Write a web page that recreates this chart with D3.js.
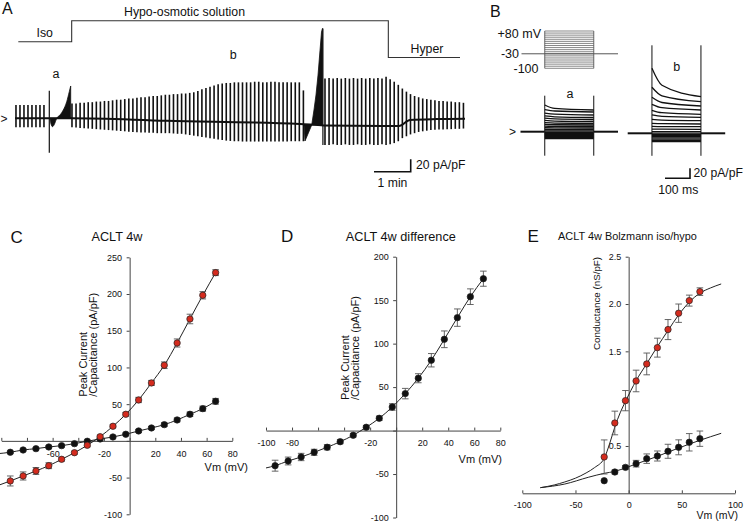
<!DOCTYPE html>
<html><head><meta charset="utf-8">
<script src="https://cdn.jsdelivr.net/npm/d3@7"></script>
<style>
body{margin:0;background:#fff}
svg{display:block}
text{font-family:"Liberation Sans",Arial,sans-serif;fill:#111}
</style></head>
<body><svg id="fig" width="745" height="523"></svg>
<script>
// ---------------- DATA ----------------
// Panel A: continuous recording (time in s, current in pA/pF)
const seg1Start = 1.6, seg1Step = 6.54;
const seg1Hi = [21.5,21.5,21.5,21.5,21.5,21.5,21.5,21.5];
const seg1Lo = [-14.5,-14.5,-14.5,-14.5,-14.5,-14.5,-14.5,-14.5];
const seg2Start = 93.2, seg2Step = 6.64;
const seg2Hi = [24,24,25,25,26,26,27,27,28,28,29,30,30,31,32,32,33,34,34,35,36,36,37,38,38,39,39,40,40,41,42,44,47,49,51,53,55,56,57,57,58,58,58,58,58,59,59,58,58,59,59,58,58,58,58,58,58,45];
const seg2Lo = [-14.5,-15,-15.5,-16,-16.5,-17,-17.5,-18,-18.5,-19,-19.5,-20,-20.5,-21,-21.5,-22,-22.5,-23,-23,-23.5,-23.5,-24,-24,-24,-24,-24.5,-25,-25,-26,-27,-28,-29,-30,-31,-32,-33,-34,-35,-36,-36.5,-37,-37,-37.5,-37.5,-37.5,-37.5,-37.5,-37.5,-37.5,-37.5,-37.5,-37.5,-37.5,-37.5,-37,-37,-37,-37];
const seg3Start = 507, seg3Step = 6.66;
const seg3Hi = [64,65,64,65,64,65,64,65,64,65,64,65,64,65,64,67,63,59,54,48,43,39,36,34,32,31,30,29,28,28,27,27,26,26,25];
const seg3Lo = [-43,-43,-42,-43,-43,-42,-43,-43,-42,-43,-43,-42,-43,-43,-42,-43,-42,-40,-37,-32,-29,-26,-24,-22,-21,-20,-19,-18.5,-18,-18,-17.5,-17.5,-17,-17,-16.5];
const holdT = [0,93,248,466,505,628,646,690,736];
const holdI = [0,0,-4,-9,-11.5,-12.4,-2.7,-1.2,-0.6];
const rampAT = [57.2,58.9,61.3,64.6,68.2,73.6,79,84.6,88.8,91.1];
const rampAI = [0,-9.2,-13.5,-9.2,0,5.3,13.4,26.8,42.9,52.1];
const rampBBase = -10.8;
const rampBT = [472.7,474.3,485.3,489,492.3,495.6,498.9,501.3,502.9];
const rampBI = [-10.8,-36.6,-10.8,13.4,37.6,69.8,110,139,145];
const spikeT = [56.1,503.6];
const spikeHi = [44.5,145];
const spikeLo = [-55.5,-43];
const solT = [5.4,92.7,92.7,610.6,610.6,727.8];
const solLevel = [0,0,1,1,-0.75,-0.75];

// Panel B: voltage steps and currents (pA/pF), times in ms
const stepV = [-100,-90,-80,-70,-60,-50,-40,-30,-20,-10,0,10,20,30,40,50,60,70,80];
const aEnd  = [-13.6,-11.6,-9.6,-7.6,-5.6,-3.6,-1.6,1.4,4.4,7.4,10.4,13.4,16.4,20.4,24.4,28.4,33.4,39.4,43.4];
const aMid  = [-13.6,-11.6,-9.6,-7.6,-5.6,-3.6,-1.6,1.4,4.4,7.6,10.7,13.9,17,21.2,25.5,29.8,35,41.4,46.5];
const aPeak = [-13.6,-11.6,-9.6,-7.6,-5.6,-3.6,-1.6,1.4,4.4,7.9,11,14.5,18,22.5,27,31.5,37,44,53.4];
const bEnd  = [-16.8,-14,-11.6,-9.2,-6.8,-4.4,-2,0.4,3.2,8,13.2,18.6,25.2,32,38,46.6,54.6,63.2,73.2];
const bMid  = [-16.8,-14,-11.6,-9.2,-6.8,-4.4,-2,0.4,3.2,8.2,13.5,19.2,26.3,34,41.2,51.2,61.6,74.8,96];
const bPeak = [-16.8,-14,-11.6,-9.2,-6.8,-4.4,-2,0.4,3.2,8.5,14,20,28,37,46,58,72,92,130];
const pulseOn = 97, pulseOff = 293, sweepEnd = 390;
const aTransient = [72,-48];
const bTransient = [176,-45];

// Panels C, D: I-V relations
const ivVoltage = [-93,-83,-73,-63,-53,-43,-33,-23,-13,-3,7,17,27,37,47,57,67];
const isoCurrent = [-15.5,-12.4,-10.6,-8.3,-6.5,-3.8,-0.5,2.6,5.3,9,13.5,17.6,22.1,28.5,36.2,43.9,53.9];
const isoErr = [1.5,1.5,1.5,1.5,1.5,1.5,1.5,1.5,1.5,1.5,2,2,2.5,2.5,3,3.4,3.9];
const hypoCurrent = [-54.6,-47.8,-41,-33.8,-25.1,-16.1,-6,5.7,19.9,36.2,55.7,78.9,103,133.3,166,198.3,229.1];
const hypoErr = [6.8,5.5,4.7,4,2.5,2,2,2,2,2.5,3.6,3.4,4.5,5.5,6.5,5,4];
const ivFitV = [-103,-93,-83,-73,-63,-53,-43,-33,-23,-13,-3,7,17,27,37,47,57,67];
const isoFit = [-17.5,-15.5,-12.4,-10.6,-8.3,-6.5,-3.8,-0.5,2.6,5.3,9,13.5,17.6,22.1,28.5,36.2,43.9,53.9];
const hypoFit = [-61,-54.6,-47.8,-41,-33.8,-25.1,-16.1,-6,5.7,19.9,36.2,55.7,78.9,103,133.3,166,198.3,229.1];
const diffCurrent = [-40.4,-35,-30.4,-25,-19.2,-12.8,-5.4,3.8,14.1,27.1,42.5,60.2,80.9,105,129.9,154,174.7];
const diffErr = [6.3,4.5,4.2,3.5,3,2.3,2,2,2.5,3.8,6,5.2,7.7,9.6,10,9,8.7];
const diffFitV = [-100,-93,-83,-73,-63,-53,-43,-33,-23,-13,-3,7,17,27,37,47,57,67];
const diffFit = [-43,-40.4,-35,-30.4,-25,-19.2,-12.8,-5.4,3.8,14.1,27.1,42.5,60.2,80.9,105,129.9,154,174.7];

// Panel E: conductance (nS/pF)
const gVoltage = [-23,-13,-3,7,17,27,37,47,57,67];
const gHypo = [0.384,0.743,0.979,1.187,1.367,1.539,1.73,1.903,2.036,2.131];
const gHypoErr = [0.18,0.125,0.107,0.114,0.115,0.1,0.106,0.097,0.058,0.04];
const gIso = [0.133,0.225,0.274,0.313,0.366,0.394,0.444,0.486,0.539,0.577];
const gIsoErr = [0,0.02,0.02,0.035,0.05,0.053,0.074,0.079,0.092,0.081];
const gHypoFitV = [-83,-70,-60,-50,-40,-32,-23,-18,-13,-8,-3,7,17,27,37,47,57,67,77,87];
const gHypoFit = [0.059,0.088,0.12,0.16,0.215,0.272,0.37,0.52,0.70,0.85,0.97,1.19,1.37,1.55,1.72,1.885,2.02,2.115,2.17,2.212];
const gIsoFitV = [-83,-60,-38,-23,-13,-3,7,17,27,37,47,57,67,87];
const gIsoFit = [0.06,0.098,0.169,0.211,0.232,0.268,0.31,0.35,0.39,0.435,0.478,0.52,0.56,0.634];

// ---------------- DRAW ----------------
const svg = d3.select('#fig');
svg.append('rect').attr('width',745).attr('height',523).attr('fill','#fff');
const FONT = '"Liberation Sans",Arial,sans-serif';
function label(x,y,s,size,anchor='start',opts={}) {
  const t = svg.append('text').attr('x',x).attr('y',y).attr('font-size',size)
    .attr('text-anchor',anchor).text(s);
  if (opts.family) t.attr('font-family',opts.family);
  if (opts.fill) t.attr('fill',opts.fill);
  return t;
}
const LETTER = '"Open Sans","Noto Sans",sans-serif';
label(2,14,'A',16,'start',{family:LETTER});
label(490,16.5,'B',16,'start',{family:LETTER});
label(10.5,242.5,'C',17,'start',{family:LETTER});
label(281,242,'D',17,'start',{family:LETTER});
label(527.5,241.5,'E',17,'start',{family:LETTER});

// ---- Panel A ----
const xA = d3.scaleLinear([0,736],[15,465]);
const yA = d3.scaleLinear([-50,50],[118.3+31,118.3-31]);
const gA = svg.append('g');
const solY = d3.scaleLinear([0,1],[41.7,20.7]);
gA.append('path').datum(solT.map((t,i)=>[t,solLevel[i]]))
  .attr('d',d3.line().x(d=>xA(d[0])).y(d=>solY(d[1])))
  .attr('fill','none').attr('stroke','#333').attr('stroke-width',1.1);
label(184.5,16,'Hypo-osmotic solution',12.3,'middle');
label(44.7,36.5,'Iso',12.3,'middle');
label(427,52.5,'Hyper',12.3,'middle');
label(56,77.5,'a',12.5,'middle');
label(233.3,59,'b',12.5,'middle');
label(0.5,122.5,'>',12,'start');

function pulses(start,step,hi,lo){
  gA.append('g').selectAll('line').data(hi.map((h,i)=>({t:start+i*step,h,l:lo[i]})))
    .join('line').attr('x1',d=>xA(d.t)).attr('x2',d=>xA(d.t))
    .attr('y1',d=>yA(d.h)).attr('y2',d=>yA(d.l))
    .attr('stroke','#111').attr('stroke-width',1.6);
}
pulses(seg1Start,seg1Step,seg1Hi,seg1Lo);
pulses(seg2Start,seg2Step,seg2Hi,seg2Lo);
pulses(seg3Start,seg3Step,seg3Hi,seg3Lo);
gA.append('path').datum(holdT.map((t,i)=>[t,holdI[i]]))
  .attr('d',d3.line().x(d=>xA(d[0])).y(d=>yA(d[1])).curve(d3.curveMonotoneX))
  .attr('fill','none').attr('stroke','#111').attr('stroke-width',2);
gA.append('path').datum(rampAT.map((t,i)=>[t,rampAI[i]]))
  .attr('d',d3.area().x(d=>xA(d[0])).y0(yA(0)).y1(d=>yA(d[1])).curve(d3.curveMonotoneX))
  .attr('fill','#111').attr('stroke','#111').attr('stroke-width',0.8);
gA.append('path').datum(rampBT.map((t,i)=>[t,rampBI[i]]))
  .attr('d',d3.area().x(d=>xA(d[0])).y0(yA(rampBBase)).y1(d=>yA(d[1])))
  .attr('fill','#111').attr('stroke','#111').attr('stroke-width',0.8);
gA.append('g').selectAll('line').data(spikeT.map((t,i)=>({t,h:spikeHi[i],l:spikeLo[i]})))
  .join('line').attr('x1',d=>xA(d.t)).attr('x2',d=>xA(d.t))
  .attr('y1',d=>yA(d.h)).attr('y2',d=>yA(d.l)).attr('stroke','#111').attr('stroke-width',1.2);
// scale bar A
const sbT = 647.2, sbI = -86.1;
gA.append('path').attr('d',`M${xA(sbT-60)},${yA(sbI)}H${xA(sbT)}V${yA(sbI+20)}`)
  .attr('fill','none').attr('stroke','#111').attr('stroke-width',1.6);
label(416,168.5,'20 pA/pF',12.2,'start');
label(392.5,187,'1 min',12.2,'middle');

// ---- Panel B ----
const xBa = d3.scaleLinear([0,390],[520.5,618]);
const xBb = d3.scaleLinear([0,390],[627.7,725.2]);
const yV = d3.scaleLinear([-100,80],[68.3,31]);
const yBa = d3.scaleLinear([0,100],[131.7,81.7]);
const yBb = d3.scaleLinear([0,100],[133.3,83.3]);
const gB = svg.append('g');
gB.append('g').selectAll('line').data(stepV).join('line')
  .attr('x1',xBa(pulseOn)).attr('x2',xBa(pulseOff)).attr('y1',d=>yV(d)).attr('y2',d=>yV(d))
  .attr('stroke','#555').attr('stroke-width',0.7);
[pulseOn,pulseOff].forEach(t=>gB.append('line').attr('x1',xBa(t)).attr('x2',xBa(t))
  .attr('y1',yV(-100)).attr('y2',yV(80)).attr('stroke','#555').attr('stroke-width',0.9));
gB.append('line').attr('x1',xBa(0)+1).attr('x2',xBa(sweepEnd)).attr('y1',yV(-30)).attr('y2',yV(-30))
  .attr('stroke','#555').attr('stroke-width',1);
label(541,37.5,'+80 mV',12.5,'end');
label(519,57.8,'-30',12.5,'end');
label(538.5,72.5,'-100',12.5,'end');
label(570,98,'a',12.5,'middle');
label(676.7,71,'b',12.5,'middle');
label(509,135.5,'>',12,'start');

function traces(xs,ys,peak,mid,end,tr){
  const g = gB.append('g');
  g.append('line').attr('x1',xs(0)).attr('x2',xs(pulseOn)).attr('y1',ys(0)).attr('y2',ys(0))
    .attr('stroke','#111').attr('stroke-width',2);
  g.append('line').attr('x1',xs(pulseOff)).attr('x2',xs(sweepEnd)).attr('y1',ys(0)).attr('y2',ys(0))
    .attr('stroke','#111').attr('stroke-width',2);
  const ln = d3.line().x(d=>xs(d[0])).y(d=>ys(d[1])).curve(d3.curveMonotoneX);
  g.selectAll('path').data(stepV.map((v,i)=>[[pulseOn,peak[i]],[pulseOn+40,mid[i]],[pulseOff,end[i]]]))
    .join('path').attr('d',ln).attr('fill','none').attr('stroke','#111').attr('stroke-width',1.3);
  [pulseOn,pulseOff].forEach(t=>g.append('line').attr('x1',xs(t)).attr('x2',xs(t))
    .attr('y1',ys(tr[0])).attr('y2',ys(tr[1])).attr('stroke','#111').attr('stroke-width',1));
}
traces(xBa,yBa,aPeak,aMid,aEnd,aTransient);
traces(xBb,yBb,bPeak,bMid,bEnd,bTransient);
const sbBT = 249.2, sbBI = -90;
gB.append('path').attr('d',`M${xBb(sbBT-100)},${yBb(sbBI)}H${xBb(sbBT)}V${yBb(sbBI+20)}`)
  .attr('fill','none').attr('stroke','#111').attr('stroke-width',1.6);
label(693.5,176.5,'20 pA/pF',12.2,'start');
label(678.3,193.5,'100 ms',12.2,'middle');

// ---- generic IV plot helpers ----
function axes(x,y,o){
  const g = svg.append('g');
  const xa = d3.axisBottom(x).tickValues(o.xTicks).tickSizeInner(-3).tickSizeOuter(0)
    .tickPadding(o.xPad).tickFormat(d=>o.xLabels.includes(d)?String(d):'');
  const gx = g.append('g').attr('transform',`translate(0,${y(0)})`).call(xa);
  const ya = d3.axisLeft(y).tickValues(o.yTicks).tickSizeInner(3).tickSizeOuter(0)
    .tickPadding(4.5).tickFormat(d=>o.yLabels.includes(d)?o.yFmt(d):'');
  const gy = g.append('g').attr('transform',`translate(${x(0)},0)`).call(ya);
  [gx,gy].forEach(a=>{
    a.attr('font-size',9).attr('font-family',FONT);
    a.selectAll('path,line').attr('stroke','#444');
    a.selectAll('text').attr('fill','#333');
  });
}
function fitLine(x,y,V,vals){
  svg.append('path').datum(V.map((v,i)=>[v,vals[i]]))
    .attr('d',d3.line().x(d=>x(d[0])).y(d=>y(d[1])).curve(d3.curveMonotoneX))
    .attr('fill','none').attr('stroke','#222').attr('stroke-width',1);
}
function points(x,y,V,vals,errs,fill){
  const g = svg.append('g');
  const d = V.map((v,i)=>({v,m:vals[i],e:errs[i]}));
  const eb = g.selectAll('g.e').data(d.filter(p=>p.e>0)).join('g').attr('stroke','#555').attr('stroke-width',0.9);
  eb.append('line').attr('x1',p=>x(p.v)).attr('x2',p=>x(p.v)).attr('y1',p=>y(p.m-p.e)).attr('y2',p=>y(p.m+p.e));
  eb.append('line').attr('x1',p=>x(p.v)-3.3).attr('x2',p=>x(p.v)+3.3).attr('y1',p=>y(p.m+p.e)).attr('y2',p=>y(p.m+p.e));
  eb.append('line').attr('x1',p=>x(p.v)-3.3).attr('x2',p=>x(p.v)+3.3).attr('y1',p=>y(p.m-p.e)).attr('y2',p=>y(p.m-p.e));
  g.selectAll('circle').data(d).join('circle').attr('cx',p=>x(p.v)).attr('cy',p=>y(p.m)).attr('r',3.2)
    .attr('fill',fill).attr('stroke','#222').attr('stroke-width',0.7);
}
function ylab(x,yStart,lines,size){
  lines.forEach((s,i)=>{
    svg.append('text').attr('transform',`translate(${x+i*10},${yStart}) rotate(-90)`)
      .attr('font-size',size).attr('text-anchor','start').attr('fill','#222').text(s);
  });
}
const RED = '#d42b1e', BLK = '#111';

// ---- Panel C ----
const xC = d3.scaleLinear([-100,80],[1.3,232.3]);
const yC = d3.scaleLinear([-100,250],[514.3,257.3]);
axes(xC,yC,{xTicks:d3.range(-100,81,20),xLabels:[-60,-20,20,40,60,80],xPad:9.5,
  yTicks:d3.range(-100,251,50),yLabels:[-100,-50,50,100,150,200,250],yFmt:d=>String(d)});
fitLine(xC,yC,ivFitV,isoFit);
fitLine(xC,yC,ivFitV,hypoFit);
points(xC,yC,ivVoltage,isoCurrent,isoErr,BLK);
points(xC,yC,ivVoltage,hypoCurrent,hypoErr,RED);
label(117,241.3,'ACLT 4w',12.7,'middle');
label(248,471,'Vm (mV)',11,'end',{fill:'#222'});
ylab(87,396.7,['Peak Current','/Capacitance (pA/pF)'],11);

// ---- Panel D ----
const xD = d3.scaleLinear([-100,80],[266,500.3]);
const yD = d3.scaleLinear([-100,200],[517.5,256.7]);
axes(xD,yD,{xTicks:d3.range(-100,81,20),xLabels:[-100,-80,-20,20,40,60,80],xPad:9.5,
  yTicks:d3.range(-100,201,50),yLabels:[-100,-50,50,100,150,200],yFmt:d=>String(d)});
fitLine(xD,yD,diffFitV,diffFit);
points(xD,yD,ivVoltage,diffCurrent,diffErr,BLK);
label(400.8,241.3,'ACLT 4w difference',12.7,'middle');
label(502,463,'Vm (mV)',11,'end',{fill:'#222'});
ylab(348.8,400,['Peak Current','/Capacitance (pA/pF)'],11);

// ---- Panel E ----
const xE = d3.scaleLinear([-100,100],[522.3,735]);
const yE = d3.scaleLinear([0,2.5],[493.3,256.7]);
axes(xE,yE,{xTicks:[-100,-50,0,50,100],xLabels:[-100,-50,0,50,100],xPad:8,
  yTicks:[0.5,1,1.5,2,2.5],yLabels:[0.5,1.5,2,2.5],yFmt:d3.format('.1f')});
fitLine(xE,yE,gHypoFitV,gHypoFit);
fitLine(xE,yE,gIsoFitV,gIsoFit);
points(xE,yE,gVoltage,gIso,gIsoErr,BLK);
points(xE,yE,gVoltage,gHypo,gHypoErr,RED);
label(627.5,240,'ACLT 4w Bolzmann iso/hypo',10.9,'middle');
label(738,519,'Vm (mV)',10.5,'end',{fill:'#222'});
ylab(600.2,350,['Conductance (nS/pF)'],9.8);
</script></body></html>
